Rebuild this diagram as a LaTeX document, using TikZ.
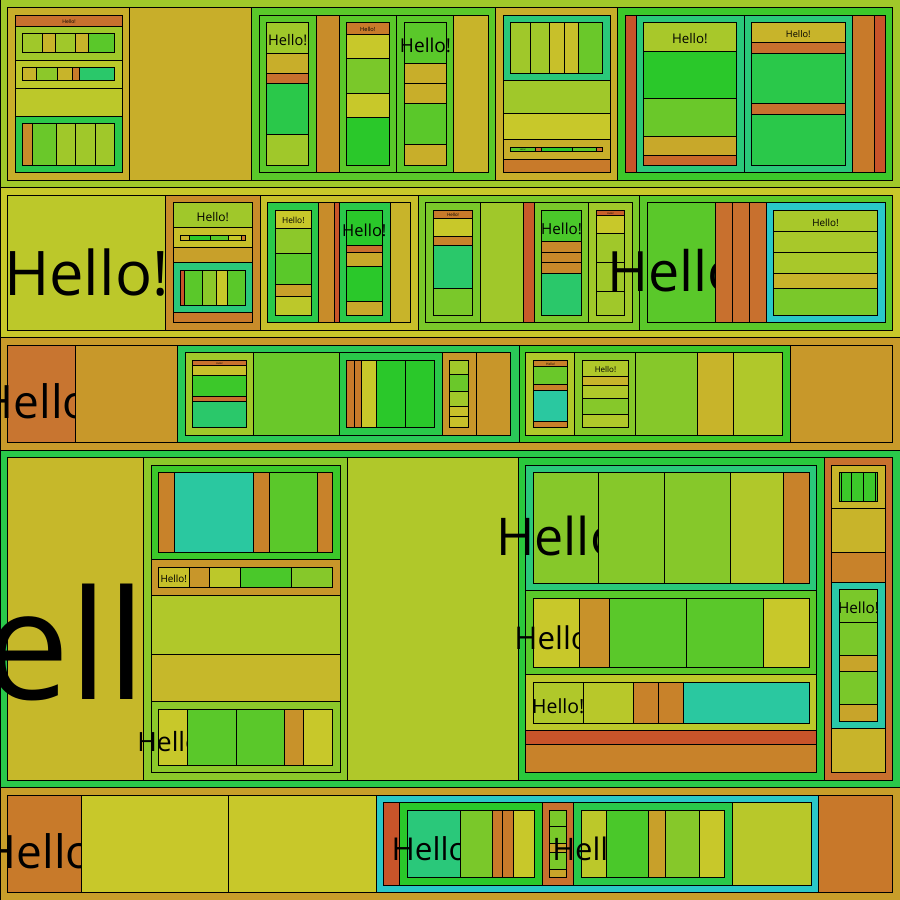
\documentclass[tikz,border=0pt]{standalone}
\usepackage{fontspec}
\setmainfont{Open Sans}
\definecolor{R54}{HTML}{C8542A}\definecolor{R5A}{HTML}{C85A2A}\definecolor{R60}{HTML}{C8602A}
\definecolor{O68}{HTML}{C8682A}\definecolor{O70}{HTML}{C8702E}\definecolor{O75}{HTML}{C87530}
\definecolor{O78}{HTML}{C8782A}\definecolor{O7A}{HTML}{C87A2A}\definecolor{O80}{HTML}{C8802A}
\definecolor{O82}{HTML}{C8822A}\definecolor{O88}{HTML}{C8882A}\definecolor{O8C}{HTML}{C88C2A}
\definecolor{O92}{HTML}{C8922A}\definecolor{O96}{HTML}{C8962A}\definecolor{O98}{HTML}{C8982A}
\definecolor{O9A}{HTML}{C89A2A}\definecolor{O9E}{HTML}{C89E2A}\definecolor{OA0}{HTML}{C8A02A}
\definecolor{GA0}{HTML}{C8A02A}\definecolor{GA4}{HTML}{C8A42A}\definecolor{GA8}{HTML}{C8A82A}
\definecolor{GAE}{HTML}{C8AE2A}\definecolor{GB4}{HTML}{C8B42A}\definecolor{YB8}{HTML}{C6B82A}
\definecolor{YC0}{HTML}{C8C02A}\definecolor{YC8}{HTML}{C8C82A}\definecolor{LBC}{HTML}{BCC82A}
\definecolor{LB8}{HTML}{B8C82A}\definecolor{LB0}{HTML}{B0C82A}\definecolor{LA8}{HTML}{A8C82A}
\definecolor{LA0}{HTML}{A0C82A}\definecolor{L8C}{HTML}{8CC82A}\definecolor{L86}{HTML}{86C82A}
\definecolor{L7A}{HTML}{7AC82A}\definecolor{L6A}{HTML}{6AC82A}\definecolor{G5A}{HTML}{5AC82A}
\definecolor{G4A}{HTML}{4AC82A}\definecolor{G3C}{HTML}{3CC82A}\definecolor{G2A}{HTML}{2AC82A}
\definecolor{G2C}{HTML}{2AC83C}\definecolor{GG4A}{HTML}{2AC84A}\definecolor{GG5A}{HTML}{2AC858}
\definecolor{T6A}{HTML}{2AC86A}\definecolor{T7A}{HTML}{2AC87A}\definecolor{TA0}{HTML}{2AC8A0}
\definecolor{TA8}{HTML}{2AC8A8}\definecolor{CC8}{HTML}{2AC8C8}
\tikzset{cl/.style={draw=black,line width=0.9pt},
  lbl/.style={anchor=base,inner sep=0pt,text=black}}
\newcommand\bx[5]{\filldraw[cl,fill=#5] (#1,#2) rectangle (#3,#4);}
\newcommand\hs[4]{\foreach \xx/\kc [remember=\xx as \lx (initially #3)] in {#4} {\filldraw[cl,fill=\kc] (\lx,#1) rectangle (\xx,#2);}}
\newcommand\vs[4]{\foreach \yy/\kc [remember=\yy as \ly (initially #3)] in {#4} {\filldraw[cl,fill=\kc] (#1,\ly) rectangle (#2,\yy);}}
\newcommand\lab[4]{\node[lbl,font=\fontsize{#4}{#4}\selectfont] (#1) at (#2,{#3+0.53*#4}) {Hello!};}
\begin{document}
\begin{tikzpicture}[x=1pt,y=-1pt]
\useasboundingbox (0,0) rectangle (900,900);
\clip (0,0) rectangle (900,900);
% ---------- Row 1
\bx{0.45}{-5}{905}{187.7}{LA0}
\bx{7.3}{7.3}{129.3}{180.3}{GAE}
\bx{15.3}{15.3}{122.7}{26.7}{O70}\lab{t1}{69}{21}{5}
\vs{15.3}{122.7}{26.7}{60.3/LA0}
\hs{33.3}{52.3}{22.3}{42.3/LA0,55.3/GB4,75.7/LA0,88.3/GB4,114.7/G5A}
\vs{15.3}{122.7}{60.3}{88.3/LBC}
\hs{67.3}{80.3}{22.3}{36.3/GB4,57.7/L8C,72.7/GB4,79.3/O7A,114.7/T6A}
\vs{15.3}{122.7}{88.3}{116.3/LBC,172.3/GG4A}
\hs{123.3}{165.3}{22.3}{32.7/O8C,56.3/L6A,75.7/LA0,95.7/LA0,114.7/LA0}
\bx{129.3}{7.3}{251.3}{180.3}{GAE}
\bx{251.3}{7.3}{495.3}{180.3}{G5A}
\bx{259.3}{15.3}{316.7}{172.3}{G5A}
\bx{266.7}{22.3}{308.7}{53.3}{LA0}\lab{t2}{287.7}{37.8}{14.6}
\vs{266.7}{308.7}{53.3}{73.3/GAE,83.3/O70,134.3/GG4A,165.3/LA0}
\bx{316.7}{15.3}{339.3}{172.3}{O8C}
\bx{339.3}{15.3}{396.7}{172.3}{G5A}
\bx{346.3}{22.3}{389.3}{34.3}{O7A}\lab{t3}{367.8}{28.3}{5.7}
\vs{346.3}{389.3}{34.3}{58.3/YC8,93.3/L7A,117.3/YC8,165.3/G2A}
\bx{396.7}{15.3}{453.3}{172.3}{G5A}
\bx{404.3}{22.3}{446.7}{63.3}{G5A}\lab{t4}{425.5}{42.8}{19.1}
\vs{404.3}{446.7}{63.3}{83.3/GAE,103.3/GAE,144.3/G5A,165.3/GAE}
\bx{453.3}{15.3}{488.7}{172.3}{GB4}
\bx{495.3}{7.3}{617.3}{180.3}{GAE}
\bx{503.3}{15.3}{610.7}{80.3}{T7A}
\hs{22.3}{73.3}{510.3}{530.7/LA0,549.7/LA0,564.7/YC0,578.7/YC0,602.7/L6A}
\vs{503.3}{610.7}{80.3}{113.3/LA0,139.3/YC8,159.3/GAE}
\bx{510.3}{147}{535.3}{151.7}{G5A}\lab{t5}{522.8}{149.3}{2.2}
\hs{147}{151.7}{535.3}{541.3/O70,572.7/G2A,596.7/G5A,602.7/O70}
\vs{503.3}{610.7}{159.3}{172.3/O7A}
\bx{617.3}{7.3}{892.7}{180.3}{G3C}
\bx{625}{15.3}{636.7}{172.3}{R54}
\bx{636.7}{15.3}{744.3}{172.3}{T7A}
\bx{643.3}{22.3}{736.3}{51.3}{LA8}\lab{t6}{689.8}{36.8}{13.3}
\vs{643.3}{736.3}{51.3}{98.3/G2A,136.3/L6A,155.3/GA8,165.3/O68}
\bx{744.3}{15.3}{852.3}{172.3}{T7A}
\bx{751.3}{22.3}{845.3}{42.3}{GB4}\lab{t7}{798.3}{32.3}{9.2}
\vs{751.3}{845.3}{42.3}{53.3/O70,103.3/GG4A,114.3/O70,165.3/GG4A}
\hs{15.3}{172.3}{852.3}{874.3/O7A,885.7/R54}
% ---------- Row 2
\bx{0.45}{187.7}{905}{337.7}{YC8}
\bx{7.3}{195.3}{165.3}{330.3}{LBC}\lab{t8}{86.3}{262.8}{61.5}
\bx{165.3}{195.3}{260.3}{330.3}{O8C}
\bx{173.3}{202.3}{252.3}{227.7}{LA0}\lab{t9}{212.8}{215}{12}
\vs{173.3}{252.3}{227.7}{247.7/YC0}
\hs{235}{240.7}{180}{189.7/GB4,210.3/G2A,228.7/G5A,241.7/YC8,245.7/O7A}
\vs{173.3}{252.3}{247.7}{262.7/GA0,312.7/T7A}
\hs{270.3}{305.7}{180}{184.3/R54,202.7/G5A,216.7/L8C,227.7/YC8,245.7/G5A}
\vs{173.3}{252.3}{312.7}{322.3/O7A}
\bx{260.3}{195.3}{418}{330.3}{YC0}
\bx{267.3}{202.3}{318.7}{322.3}{GG4A}
\bx{275.3}{210.3}{311.3}{228.7}{YC8}\lab{t10}{293.3}{219.5}{8.4}
\vs{275.3}{311.3}{228.7}{253.3/L8C,284.3/G5A,296.3/GA0,315.3/LBC}
\hs{202.3}{322.3}{318.7}{334.3/O8C,339.3/R54,390.3/GG4A}
\bx{346.3}{210.3}{382.3}{245.3}{G2A}\lab{t11}{364.3}{227.8}{16.5}
\vs{346.3}{382.3}{245.3}{252.3/O70,266.3/GA8,301.3/G2A,315.3/GA8}
\bx{390.3}{202.3}{410.3}{322.3}{GB4}
\bx{418}{195.3}{639.7}{330.3}{L7A}
\bx{425.3}{202.3}{480.3}{322.3}{L7A}
\bx{433.3}{210.3}{472.7}{218.3}{O7A}\lab{t12}{453}{214.3}{4.4}
\vs{433.3}{472.7}{218.3}{236.7/YC8,245.7/O82,288.3/T6A,315.3/L7A}
\hs{202.3}{322.3}{480.3}{523.7/LA0,534.7/R5A,588.3/L7A}
\bx{541.3}{210.3}{581.7}{241.7}{G4A}\lab{t13}{561.5}{226}{15.2}
\vs{541.3}{581.7}{241.7}{252.7/O88,262.7/O88,273.7/O88,315.3/T6A}
\bx{588.3}{202.3}{632.7}{322.3}{LA0}
\bx{596.3}{210.3}{624.7}{215.3}{R60}\lab{t14}{610.5}{212.8}{2.5}
\vs{596.3}{624.7}{215.3}{233.7/YC8,262.7/LA0,291.3/LA0,315.3/LA0}
\bx{639.7}{195.3}{892.3}{330.3}{G5A}
\bx{647.3}{202.3}{715.7}{322.3}{G5A}\lab{t15}{681.5}{262.3}{55.6}
\hs{202.3}{322.3}{715.7}{732.7/O70,749.7/O70,766.7/O70,885.3/CC8}
\bx{773.3}{210.3}{877.7}{231.7}{LA8}\lab{t16}{825.5}{221}{9.9}
\vs{773.3}{877.7}{231.7}{252.7/LA8,273.3/LA8,288.7/GB4,315.3/L7A}
% ---------- Row 3
\bx{0.45}{337.7}{905}{450}{O9A}
\bx{7.3}{345.3}{75.3}{442.3}{O75}\lab{t17}{41.3}{393.8}{46}
\bx{75.3}{345.3}{177.3}{442.3}{O98}
\bx{177.3}{345.3}{519.3}{442.3}{GG5A}
\bx{185.3}{352.3}{253.3}{435.3}{LA0}
\bx{192.3}{360.3}{246.7}{365.7}{O70}\lab{t18}{219.5}{363}{2.5}
\vs{192.3}{246.7}{365.7}{375.3/YC0,396.7/G3C,401.3/O70,427.3/T6A}
\hs{352.3}{435.3}{253.3}{339.3/L6A,442.3/GG4A}
\hs{360.3}{427.3}{346.3}{354.3/O7A,361.3/O7A,376.3/YC8,405.3/G2A,434.7/G2A}
\bx{442.3}{352.3}{476.3}{435.3}{O96}
\vs{449.3}{468.7}{360.3}{374.3/LA0,391.7/L6A,406.3/LA0,416.3/YC0,427.3/YC0}
\bx{476.3}{352.3}{510.7}{435.3}{O96}
\bx{519.3}{345.3}{790.3}{442.3}{G3C}
\bx{525.3}{352.3}{574.3}{435.3}{LB0}
\bx{533.3}{360.3}{567.7}{366.3}{O80}\lab{t19}{550.5}{363.3}{3.3}
\vs{533.3}{567.7}{366.3}{384.7/L6A,390.3/O80,421.7/TA0,427.3/O80}
\bx{574.3}{352.3}{635.3}{435.3}{L86}
\bx{582.3}{360.3}{628.7}{376.3}{LB0}\lab{t20}{605.5}{368.3}{8}
\vs{582.3}{628.7}{376.3}{385.3/GB4,398.3/LB0,414.3/L86,427.3/LB0}
\hs{352.3}{435.3}{635.3}{697.3/L86,733.3/GB4,782.7/LB0}
\bx{790.3}{345.3}{892.3}{442.3}{O98}
% ---------- Row 4
\bx{0.45}{450}{905}{787.3}{GG4A}
\bx{7.3}{457.3}{143.3}{780.3}{YB8}\lab{t21}{75.3}{618.8}{152}
\bx{143.3}{457.3}{347.3}{780.3}{L8C}
\bx{151.3}{465.3}{340.3}{559.3}{G3C}
\hs{472.3}{552.3}{158.3}{174.3/O82,253.3/TA0,269.3/O82,317.3/G5A,332.7/O82}
\bx{151.3}{559.3}{340.3}{595.3}{O96}
\bx{158.3}{567.3}{189.3}{587}{YC0}\lab{t22}{173.8}{577.2}{9.9}
\hs{567.3}{587}{189.3}{209.3/O96,240.3/LBC,291.3/G4A,332.7/L86}
\vs{151.3}{340.3}{595.3}{654.3/LB0,701.3/YB8,772.3/L8C}
\bx{158.3}{709.3}{187.3}{765.3}{YC8}\lab{t23}{172.8}{737.3}{26.5}
\hs{709.3}{765.3}{187.3}{236.3/G5A,284.3/G5A,303.3/O92,332.7/YC8}
\bx{347.3}{457.3}{518.3}{780.3}{LB0}
\bx{518.3}{457.3}{824.7}{780.3}{G2C}
\bx{525.3}{465.3}{816.7}{590}{T7A}
\bx{533.3}{472.3}{598.3}{583.7}{L86}\lab{t24}{565.8}{528}{52}
\hs{472.3}{583.7}{598.3}{664.3/L86,730.3/L86,783.3/LB0,809.7/O82}
\bx{525.3}{590}{816.7}{674}{G5A}
\bx{533.3}{598.3}{579.3}{667.3}{YC8}\lab{t25}{556.3}{632.8}{31.3}
\hs{598.3}{667.3}{579.3}{609.3/O92,686.3/G5A,763.3/G5A,809.7/YC8}
\bx{525.3}{674}{816.7}{730.3}{LBC}
\bx{533.3}{682.3}{583.3}{723.3}{LB0}\lab{t26}{558.3}{702.8}{19.5}
\hs{682.3}{723.3}{583.3}{633.3/LB8,658.3/O82,683.3/O82,809.7/TA0}
\vs{525.3}{816.7}{730.3}{744.3/R54,772.3/O82}
\bx{824.7}{457.3}{892.3}{780.3}{O70}
\bx{831.3}{465.3}{885.7}{508.3}{GB4}
\hs{472.3}{501.7}{839.3}{841.7/G3C,851.3/G3C,863.7/G3C,875.3/G3C,877.7/G3C}
\vs{831.3}{885.7}{508.3}{552.3/GB4,582.3/O82,728.3/TA8}
\bx{839.3}{589.3}{877.7}{622.3}{L7A}\lab{t27}{858.5}{605.8}{15.3}
\vs{839.3}{877.7}{622.3}{655.3/L7A,671.3/GA4,704.3/L7A,721.3/GA4}
\bx{831.3}{728.3}{885.7}{772.3}{GB4}
% ---------- Row 5
\bx{0.45}{787.3}{905}{905}{O9E}
\bx{7.3}{795.3}{81.3}{892.3}{O7A}\lab{t28}{44.3}{843.8}{46}
\hs{795.3}{892.3}{81.3}{228.7/YC8,376.7/YC8,818.3/CC8}
\bx{383.3}{802.3}{399.3}{885.3}{R54}
\bx{399.3}{802.3}{542.3}{885.3}{G2A}
\bx{407.3}{810.3}{460.3}{877.3}{T7A}\lab{t29}{433.8}{843.8}{31.5}
\hs{810.3}{877.3}{460.3}{492.3/L7A,502.3/O7A,513.3/O7A,534.7/YC8}
\bx{542.3}{802.3}{573.3}{885.3}{O70}
\vs{549.3}{566.7}{810.3}{826.3/L7A,843.3/L7A,852.3/GA4,869.3/L7A,877.3/GA4}
\bx{573.3}{802.3}{732.3}{885.3}{GG4A}
\bx{581.3}{810.3}{606.3}{877.3}{LBC}\lab{t30}{593.8}{843.8}{31}
\hs{810.3}{877.3}{606.3}{648.7/G4A,665.7/OA0,699.7/L86,724.3/YC8}
\bx{732.3}{802.3}{811.3}{885.3}{LB8}
\bx{818.3}{795.3}{892.3}{892.3}{O78}
\end{tikzpicture}
\end{document}
